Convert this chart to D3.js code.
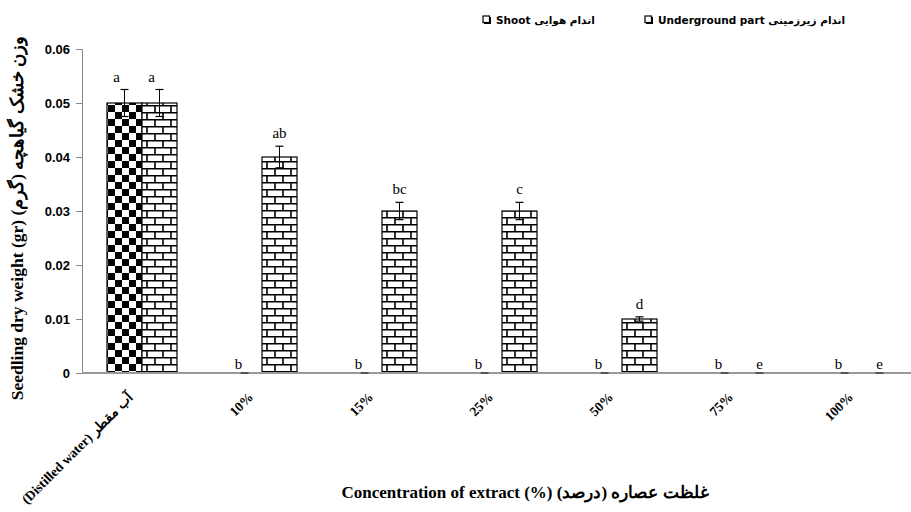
<!DOCTYPE html>
<html><head><meta charset="utf-8">
<script src="https://cdn.jsdelivr.net/npm/d3@7"></script>
<style>body{margin:0;background:#fff}svg{display:block}</style>
</head><body>
<svg id="c" width="911" height="512"></svg>
<script>
const categories = ["(Distilled water) آب مقطر", "10%", "15%", "25%", "50%", "75%", "100%"];
const seriesNames = ["Shoot اندام هوایی", "Underground part اندام زیرزمینی"];
const shootValues = [0.05, 0, 0, 0, 0, 0, 0];
const undergroundValues = [0.05, 0.04, 0.03, 0.03, 0.01, 0, 0];
const shootErrors = [0.0025, 0, 0, 0, 0, 0, 0];
const undergroundErrors = [0.0025, 0.002, 0.0016, 0.0016, 0.0004, 0, 0];
const shootLetters = ["a", "b", "b", "b", "b", "b", "b"];
const undergroundLetters = ["a", "ab", "bc", "c", "d", "e", "e"];
const yTicks = [0, 0.01, 0.02, 0.03, 0.04, 0.05, 0.06];
const yTitle = "Seedling dry weight (gr) وزن خشک گیاهچه (گرم)";
const xTitle = "Concentration of extract (%) غلظت عصاره (درصد)";

const svg = d3.select("#c");
const defs = svg.append("defs");
const chk = defs.append("pattern").attr("id","checker").attr("patternUnits","userSpaceOnUse")
  .attr("width",14).attr("height",14).attr("x",108).attr("y",0);
chk.append("rect").attr("width",14).attr("height",14).attr("fill","#fff");
chk.append("rect").attr("x",7).attr("y",0).attr("width",7).attr("height",7).attr("fill","#000");
chk.append("rect").attr("x",0).attr("y",7).attr("width",7).attr("height",7).attr("fill","#000");
const br = defs.append("pattern").attr("id","brick").attr("patternUnits","userSpaceOnUse")
  .attr("width",16).attr("height",14).attr("x",2).attr("y",0);
br.append("rect").attr("width",16).attr("height",14).attr("fill","#fff");
br.append("path").attr("d","M0,0.75H16M0,7.75H16M1,0V7.75M9,7.75V14")
  .attr("stroke","#000").attr("stroke-width",1.6).attr("fill","none");

const x0 = d3.scaleBand().domain(categories).range([82, 922]).paddingInner(0.4167).paddingOuter(0.2083);
const x1 = d3.scaleBand().domain(seriesNames).range([0, x0.bandwidth()]);
const y = d3.scaleLinear().domain([0, 0.06]).range([373, 49]);

const series = [
  {name: seriesNames[0], values: shootValues, errors: shootErrors, letters: shootLetters, fill: "url(#checker)", dx: -6},
  {name: seriesNames[1], values: undergroundValues, errors: undergroundErrors, letters: undergroundLetters, fill: "url(#brick)", dx: 0}
];

const yAxis = d3.axisLeft(y).tickValues(yTicks).tickSize(6).tickPadding(6)
  .tickFormat(d => d === 0 ? "0" : d3.format(".2f")(d));
const gy = svg.append("g").attr("transform","translate(82,0)").call(yAxis);
gy.select(".domain").attr("stroke","#888");
gy.selectAll(".tick line").attr("stroke","#888");
gy.selectAll("text").attr("font-family","'Liberation Sans', Arial, sans-serif").attr("font-weight","bold")
  .attr("font-size",13).attr("fill","#000");

series.forEach(s => {
  const g = svg.append("g");
  categories.forEach((c, i) => {
    const v = s.values[i];
    const bx = x0(c) + x1(s.name);
    const bw = x1.bandwidth();
    if (v > 0) {
      g.append("rect").attr("x", bx).attr("y", y(v)).attr("width", bw).attr("height", y(0) - y(v))
        .attr("fill", s.fill).attr("stroke","#000").attr("stroke-width",1.2);
    }
  });
});

svg.append("line").attr("x1",82).attr("x2",911).attr("y1",y(0)).attr("y2",y(0))
  .attr("stroke","#999").attr("stroke-width",2);

series.forEach(s => {
  const g = svg.append("g");
  categories.forEach((c, i) => {
    const v = s.values[i], e = s.errors[i];
    const cx = x0(c) + x1(s.name) + x1.bandwidth()/2;
    if (v > 0) {
      g.append("line").attr("x1",cx).attr("x2",cx).attr("y1",y(v+e)).attr("y2",y(Math.max(0,v-e)))
        .attr("stroke","#000").attr("stroke-width",1);
      g.append("line").attr("x1",cx-4).attr("x2",cx+4).attr("y1",y(v+e)).attr("y2",y(v+e))
        .attr("stroke","#000").attr("stroke-width",1.2);
      g.append("line").attr("x1",cx-4).attr("x2",cx+4).attr("y1",y(v-e)).attr("y2",y(v-e))
        .attr("stroke","#000").attr("stroke-width",1.2);
    } else {
      g.append("line").attr("x1",cx-4).attr("x2",cx+4).attr("y1",y(0)).attr("y2",y(0))
        .attr("stroke","#555").attr("stroke-width",2);
    }
    g.append("text").attr("x", cx + (v > 0 && i === 0 ? -8 : s.dx)).attr("y", y(v+e) - (v > 0 ? 8 : 4))
      .attr("text-anchor","middle").attr("font-family","'Liberation Serif', 'Times New Roman', serif")
      .attr("font-size",15).attr("fill","#000").text(s.letters[i]);
  });
});

svg.append("g").selectAll("text").data(categories).join("text")
  .attr("transform", d => `translate(${x0(d) + x0.bandwidth()/2 - 8},398) rotate(-45)`)
  .attr("text-anchor","end")
  .attr("font-family","'Liberation Serif', 'Times New Roman', serif").attr("font-weight","bold")
  .attr("font-size",13.5).attr("fill","#000").text(d => d);

svg.append("text").attr("transform","translate(23,218) rotate(-90)").attr("text-anchor","middle")
  .attr("direction","ltr")
  .attr("font-family","'Liberation Serif', 'Times New Roman', serif").attr("font-weight","bold")
  .attr("font-size",17.5).attr("fill","#000").text(yTitle);
svg.append("text").attr("x",525).attr("y",498).attr("text-anchor","middle").attr("direction","ltr")
  .attr("font-family","'Liberation Serif', 'Times New Roman', serif").attr("font-weight","bold")
  .attr("font-size",17).attr("fill","#000").text(xTitle);

const legX = [483, 645];
series.forEach((s, i) => {
  const g = svg.append("g").attr("transform",`translate(${legX[i]},16)`);
  g.append("rect").attr("x",1).attr("y",1).attr("width",7).attr("height",7).attr("fill","#000");
  g.append("rect").attr("x",0).attr("y",0).attr("width",6.5).attr("height",6.5).attr("fill","#fff")
    .attr("stroke","#000").attr("stroke-width",1.2);
  g.append("text").attr("x",13).attr("y",8).attr("direction","ltr")
    .attr("font-family","'DejaVu Sans', Verdana, sans-serif").attr("font-weight","bold")
    .attr("font-size",10.5).attr("fill","#000").text(s.name);
});
</script>
</body></html>
